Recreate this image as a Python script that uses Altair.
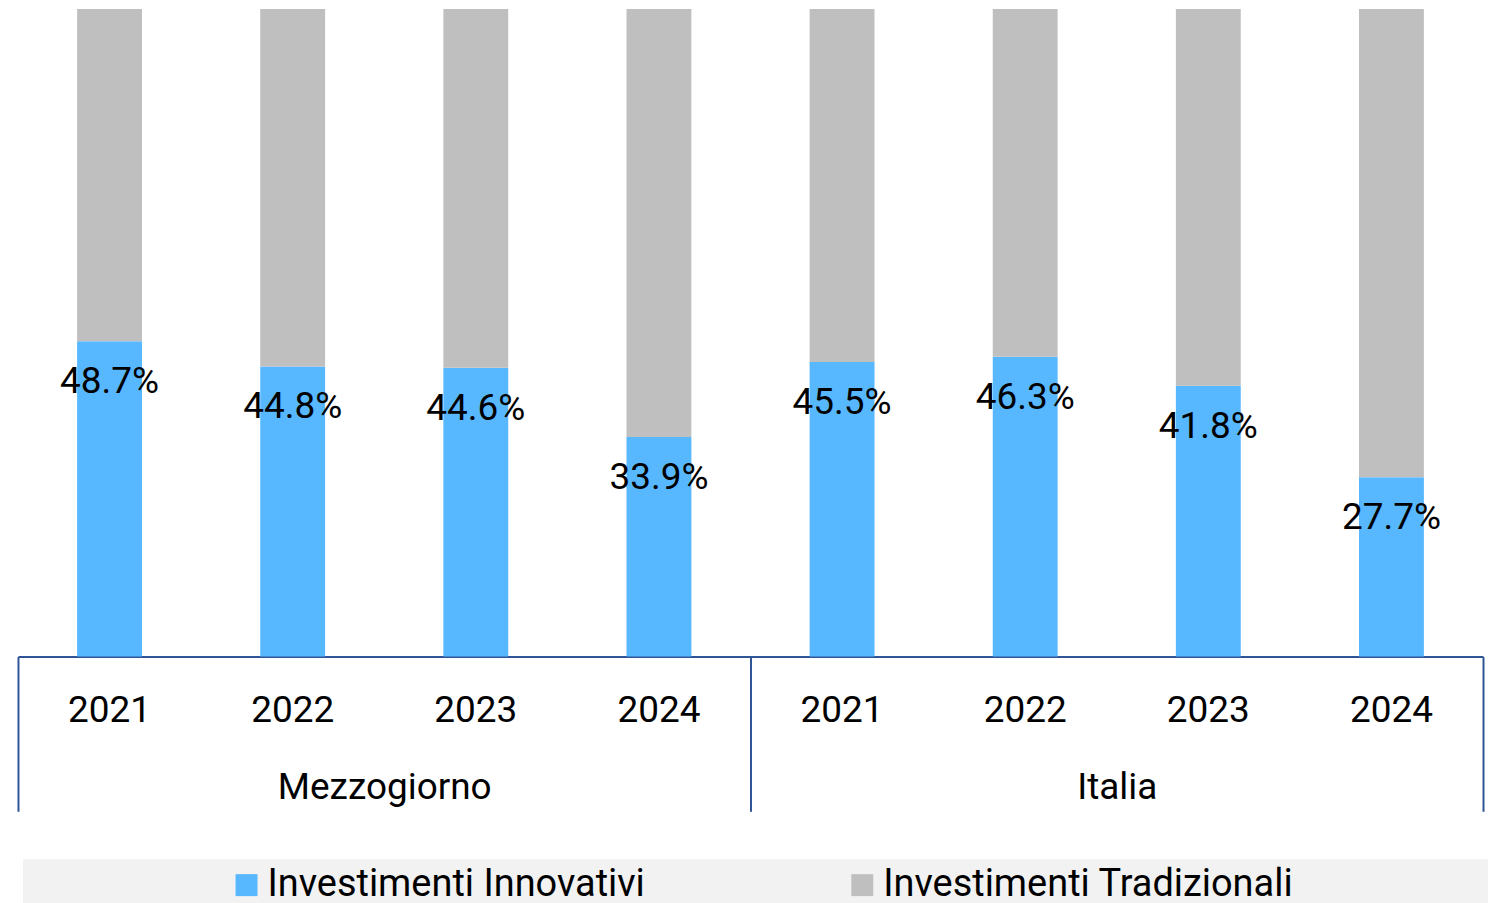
import altair as alt
import pandas as pd

groups = ["Mezzogiorno", "Italia"]
years = ["2021", "2022", "2023", "2024"]
innovativi = [48.7, 44.8, 44.6, 33.9, 45.5, 46.3, 41.8, 27.7]
series_names = ["Investimenti Innovativi", "Investimenti Tradizionali"]
colors = ["#57B7FF", "#BFBFBF"]

rows = []
keys = []
i = 0
for g in groups:
    for y in years:
        k = g + "|" + y
        keys.append(k)
        v = innovativi[i]
        rows.append({"key": k, "group": g, "year": y, "series": series_names[0], "value": v, "ord": 0})
        rows.append({"key": k, "group": g, "year": y, "series": series_names[1], "value": round(100 - v, 1), "ord": 1})
        i += 1
df = pd.DataFrame(rows)
df_innov = df[df["series"] == series_names[0]].copy()
df_innov["label"] = df_innov["value"].map(lambda v: f"{v:.1f}%")
df_groups = pd.DataFrame({"group": groups})
df_bg = pd.DataFrame({"bg": [1]})

FONT = "Roboto"
AXIS_BLUE = "#2F5597"

x_year = alt.X(
    "key:N", sort=keys, title=None,
    scale=alt.Scale(paddingInner=0, paddingOuter=0),
    axis=alt.Axis(
        orient="bottom", labelExpr="split(datum.label, '|')[1]",
        labelAngle=0, labelFontSize=37, labelFont=FONT, labelColor="#000000",
        labelPadding=36, ticks=False, tickSize=0,
        domainColor=AXIS_BLUE, domainWidth=2, grid=False,
    ),
)

background = alt.Chart(df_bg).mark_rect(color="#F2F2F2").encode(
    x=alt.value(5), x2=alt.value(1473), y=alt.value(852), y2=alt.value(905)
)

bars = alt.Chart(df).mark_bar(width=65).encode(
    x=x_year,
    y=alt.Y("value:Q", stack="zero", scale=alt.Scale(domain=[0, 100], nice=False), axis=None),
    color=alt.Color(
        "series:N", sort=series_names,
        scale=alt.Scale(domain=series_names, range=colors),
        legend=alt.Legend(
            orient="none", legendX=210, legendY=859, direction="horizontal",
            title=None, symbolType="square", symbolSize=484, symbolStrokeWidth=0,
            labelFont=FONT, labelFontSize=38, labelColor="#000000",
            labelOffset=2, columnPadding=198, padding=0, labelLimit=0,
        ),
    ),
    order=alt.Order("ord:Q", sort="ascending"),
)

labels = alt.Chart(df_innov).mark_text(
    font=FONT, fontSize=37, color="#000000", baseline="top", align="center", dy=23
).encode(
    x=alt.X("key:N", sort=keys, title=None),
    y=alt.Y("value:Q"),
    text="label:N",
)

inner = alt.layer(background, bars, labels)

group_layer = alt.Chart(df_groups).mark_point(opacity=0, size=1).encode(
    x=alt.X(
        "group:N", sort=groups, title=None,
        scale=alt.Scale(paddingInner=0, paddingOuter=0),
        axis=alt.Axis(
            orient="bottom", domain=False, ticks=True, tickBand="extent",
            tickSize=155, tickColor=AXIS_BLUE, tickWidth=2,
            labelPadding=-42, labelAngle=0, labelFontSize=37, labelFont=FONT,
            labelColor="#000000", grid=False, labelLimit=0,
        ),
    ),
    y=alt.value(300),
)

chart = alt.layer(inner, group_layer).resolve_scale(x="independent").properties(
    width=1468, height=649,
    padding={"left": 9, "top": 0, "right": 0, "bottom": 0},
).configure_view(stroke=None)

chart.save("out.html", embed_options={"renderer": "svg", "actions": False})
